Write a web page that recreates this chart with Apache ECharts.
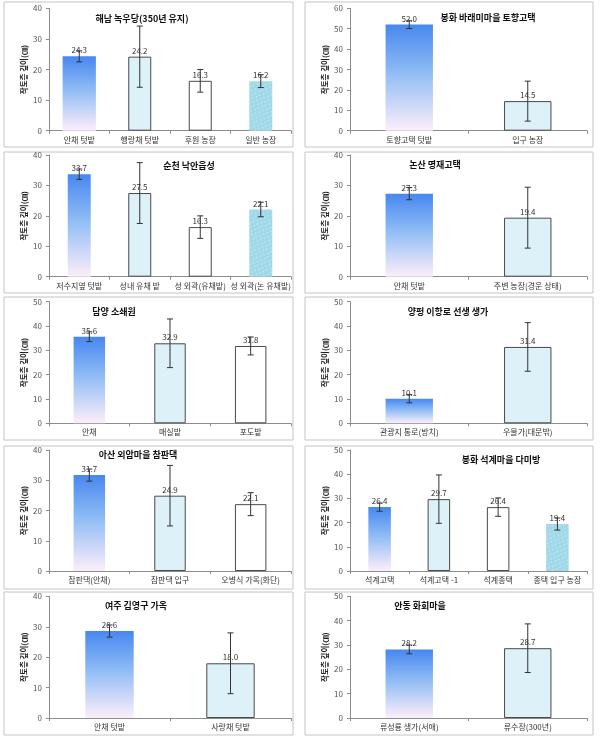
<!DOCTYPE html>
<html><head><meta charset="utf-8">
<script src="https://cdn.jsdelivr.net/npm/echarts@6/dist/echarts.min.js"></script>
<style>html,body{margin:0;padding:0;background:#fff}#c{width:603px;height:742px}</style>
</head><body><div id="c"></div><script>
// ---------- data ----------
const yName = '작토층 깊이(㎝)';

const p1Title = '해남 녹우당(350년 유지)';
const p1Cats = ['안채 텃밭', '행랑채 텃밭', '후원 농장', '일반 농장'];
const p1Vals = [24.3, 24.2, 16.3, 16.2];
const p1Errs = [1.8, 10.0, 3.7, 2.1];
const p1Kinds = ['A', 'B', 'C', 'D'];
const p1Max = 40;

const p2Title = '봉화 바래미마을 토향고택';
const p2Cats = ['토향고택 텃밭', '입구 농장'];
const p2Vals = [52.0, 14.5];
const p2Errs = [1.9, 9.8];
const p2Kinds = ['A', 'B'];
const p2Max = 60;

const p3Title = '순천 낙안읍성';
const p3Cats = ['저수지옆 텃밭', '성내 유채 밭', '성 외곽(유채밭)', '성 외곽(논 유채밭)'];
const p3Vals = [33.7, 27.5, 16.3, 22.1];
const p3Errs = [1.7, 10.0, 3.7, 2.4];
const p3Kinds = ['A', 'B', 'C', 'D'];
const p3Max = 40;

const p4Title = '논산 명재고택';
const p4Cats = ['안채 텃밭', '주변 농장(경운 상태)'];
const p4Vals = [27.3, 19.4];
const p4Errs = [2.0, 10.0];
const p4Kinds = ['A', 'B'];
const p4Max = 40;

const p5Title = '담양 소쇄원';
const p5Cats = ['안채', '매실밭', '포도밭'];
const p5Vals = [35.6, 32.9, 31.8];
const p5Errs = [2.0, 10.0, 3.7];
const p5Kinds = ['A', 'B', 'C'];
const p5Max = 50;

const p6Title = '양평 이항로 선생 생가';
const p6Cats = ['관광지 통로(방치)', '우물가(대문밖)'];
const p6Vals = [10.1, 31.4];
const p6Errs = [1.7, 10.0];
const p6Kinds = ['A', 'B'];
const p6Max = 50;

const p7Title = '아산 외암마을 참판댁';
const p7Cats = ['참판댁(안채)', '참판댁 입구', '오병식 가옥(화단)'];
const p7Vals = [31.7, 24.9, 22.1];
const p7Errs = [2.0, 10.0, 3.8];
const p7Kinds = ['A', 'B', 'C'];
const p7Max = 40;

const p8Title = '봉화 석계마을 다미방';
const p8Cats = ['석계고택', '석계고택 -1', '석계종택', '종택 입구 농장'];
const p8Vals = [26.4, 29.7, 26.4, 19.4];
const p8Errs = [1.7, 10.0, 3.8, 2.5];
const p8Kinds = ['A', 'B', 'C', 'D'];
const p8Max = 50;

const p9Title = '여주 김영구 가옥';
const p9Cats = ['안채 텃밭', '사랑채 텃밭'];
const p9Vals = [28.6, 18.0];
const p9Errs = [2.0, 10.0];
const p9Kinds = ['A', 'B'];
const p9Max = 40;

const p10Title = '안동 화회마을';
const p10Cats = ['류성룡 생가(서애)', '류수장(300년)'];
const p10Vals = [28.2, 28.7];
const p10Errs = [1.8, 10.0];
const p10Kinds = ['A', 'B'];
const p10Max = 50;

// ---------- layout (positions / sizes) ----------
const panels = [
  {t: p1Title, c: p1Cats, v: p1Vals, e: p1Errs, k: p1Kinds, m: p1Max, col: 0, row: 0, tx: 142, ty: 19, bw: '38%', fw: '55%'},
  {t: p2Title, c: p2Cats, v: p2Vals, e: p2Errs, k: p2Kinds, m: p2Max, col: 1, row: 0, tx: 488, ty: 18, bw: '40%'},
  {t: p3Title, c: p3Cats, v: p3Vals, e: p3Errs, k: p3Kinds, m: p3Max, col: 0, row: 1, tx: 189, ty: 166, bw: '38%'},
  {t: p4Title, c: p4Cats, v: p4Vals, e: p4Errs, k: p4Kinds, m: p4Max, col: 1, row: 1, tx: 435, ty: 165, bw: '40%'},
  {t: p5Title, c: p5Cats, v: p5Vals, e: p5Errs, k: p5Kinds, m: p5Max, col: 0, row: 2, tx: 114, ty: 312, bw: '39%'},
  {t: p6Title, c: p6Cats, v: p6Vals, e: p6Errs, k: p6Kinds, m: p6Max, col: 1, row: 2, tx: 448, ty: 312, bw: '40%'},
  {t: p7Title, c: p7Cats, v: p7Vals, e: p7Errs, k: p7Kinds, m: p7Max, col: 0, row: 3, tx: 138, ty: 455, bw: '39%'},
  {t: p8Title, c: p8Cats, v: p8Vals, e: p8Errs, k: p8Kinds, m: p8Max, col: 1, row: 3, tx: 501, ty: 460, bw: '38%'},
  {t: p9Title, c: p9Cats, v: p9Vals, e: p9Errs, k: p9Kinds, m: p9Max, col: 0, row: 4, tx: 136, ty: 606, bw: '40%'},
  {t: p10Title, c: p10Cats, v: p10Vals, e: p10Errs, k: p10Kinds, m: p10Max, col: 1, row: 4, tx: 420, ty: 606, bw: '40%'}
];
const colLeft = [49, 350];
const colWidth = [242, 237];
const rowTop = [8.3, 155, 301.7, 450, 596.4];
const rowBottom = [130.7, 276.7, 423.3, 571, 718];
const boxX = [4, 305];
const boxW = [289, 288];
const boxY = [2, 152, 297, 446, 592];
const boxH = [145, 141, 143, 143, 143];

const FONT = '"Noto Sans CJK KR", "Noto Sans", sans-serif';

const kindStyle = {
  A: {color: {type: 'linear', x: 0, y: 0, x2: 0, y2: 1, colorStops: [
        {offset: 0, color: '#4787ef'}, {offset: 0.45, color: '#8fbcf5'}, {offset: 1, color: '#fdeefa'}]}},
  B: {color: '#ddf1f8', borderColor: '#4a4a4a', borderWidth: 1},
  C: {color: '#ffffff', borderColor: '#4a4a4a', borderWidth: 1},
  D: {color: '#9fd8e8', decal: {symbol: 'circle', symbolSize: 0.85, color: 'rgba(235,250,253,0.55)',
        dashArrayX: [[3, 2], [0, 2, 3, 0]], dashArrayY: [2, 1], rotation: 0.5}}
};

const grid = [], xAxis = [], yAxis = [], series = [], graphic = [];

function errRender(params, api) {
  const x = api.value(0), v = api.value(1), e = api.value(2);
  const top = api.coord([x, v + e]);
  const bot = api.coord([x, v - e]);
  const w = 3;
  const st = {stroke: '#333', lineWidth: 1};
  return {type: 'group', children: [
    {type: 'line', shape: {x1: top[0], y1: top[1], x2: bot[0], y2: bot[1]}, style: st},
    {type: 'line', shape: {x1: top[0] - w, y1: top[1], x2: top[0] + w, y2: top[1]}, style: st},
    {type: 'line', shape: {x1: bot[0] - w, y1: bot[1], x2: bot[0] + w, y2: bot[1]}, style: st}
  ]};
}

panels.forEach((p, pi) => {
  const gi = grid.length;
  grid.push({left: colLeft[p.col], width: colWidth[p.col], top: rowTop[p.row], height: rowBottom[p.row] - rowTop[p.row]});
  const xi = xAxis.length;
  xAxis.push({
    type: 'category', gridIndex: gi, data: p.c,
    axisLine: {lineStyle: {color: '#8c8c8c'}},
    axisTick: {show: true, length: 3, lineStyle: {color: '#8c8c8c'}},
    axisLabel: {interval: 0, fontSize: 8, color: '#333', margin: 5, fontFamily: FONT}
  });
  const yi = yAxis.length;
  yAxis.push({
    type: 'value', gridIndex: gi, min: 0, max: p.m, interval: 10,
    name: yName, nameLocation: 'middle', nameGap: 21, nameRotate: 90,
    nameTextStyle: {fontSize: 7.5, fontWeight: 'bold', color: '#222', fontFamily: FONT},
    axisLine: {show: true, lineStyle: {color: '#8c8c8c'}},
    axisTick: {show: true, length: 3, lineStyle: {color: '#8c8c8c'}},
    axisLabel: {fontSize: 8, color: '#555', margin: 7, fontFamily: FONT},
    splitLine: {show: false}
  });
  const labelCfg = {show: true, position: 'top', distance: 2, fontSize: 8, color: '#333', fontFamily: FONT,
    formatter: (d) => Number(d.value).toFixed(1)};
  const mainData = p.v.map((val, i) => ({value: val, itemStyle: kindStyle[p.k[i]]}));
  if (p.fw) {
    const hx = xAxis.length;
    xAxis.push({type: 'category', gridIndex: gi, data: p.c, show: false});
    series.push({
      type: 'bar', xAxisIndex: hx, yAxisIndex: yi, barWidth: p.fw, label: labelCfg,
      data: mainData.map((d, i) => i === 0 ? d : '-'), silent: true, animation: false
    });
    series.push({
      type: 'bar', xAxisIndex: xi, yAxisIndex: yi, barWidth: p.bw, label: labelCfg,
      data: mainData.map((d, i) => i === 0 ? '-' : d), silent: true, animation: false
    });
  } else {
    series.push({
      type: 'bar', xAxisIndex: xi, yAxisIndex: yi, barWidth: p.bw, label: labelCfg,
      data: mainData, silent: true, animation: false
    });
  }
  series.push({
    type: 'custom', xAxisIndex: xi, yAxisIndex: yi, renderItem: errRender, z: 10,
    encode: {x: 0, y: 1}, data: p.v.map((val, i) => [i, val, p.e[i]]), silent: true, animation: false
  });
  graphic.push({
    type: 'rect', shape: {x: boxX[p.col], y: boxY[p.row], width: boxW[p.col], height: boxH[p.row]},
    style: {fill: 'none', stroke: '#c4c4c4', lineWidth: 1}, silent: true, z: -1
  });
  graphic.push({
    type: 'text', x: p.tx, y: p.ty,
    style: {text: p.t, fontSize: 9, fontWeight: 'bold', fill: '#111', align: 'center', verticalAlign: 'middle', fontFamily: FONT},
    silent: true
  });
});

const chart = echarts.init(document.getElementById('c'), null, {renderer: 'canvas'});
chart.setOption({animation: false, grid, xAxis, yAxis, series, graphic});
</script></body></html>
